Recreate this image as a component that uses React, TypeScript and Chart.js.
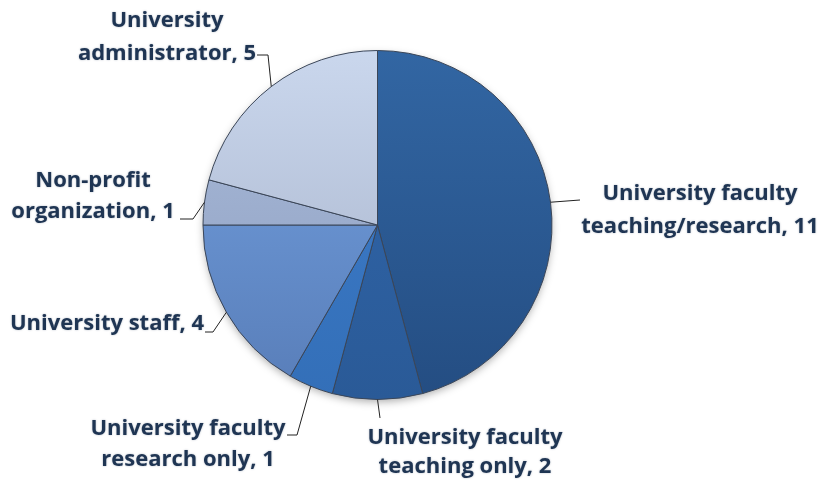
import React, { useEffect, useRef } from "react";
import { Chart, registerables } from "chart.js";
Chart.register(...registerables);

// ---- data ----
const categories = [
  "University faculty teaching/research",
  "University faculty teaching only",
  "University faculty research only",
  "University staff",
  "Non-profit organization",
  "University administrator",
];
const values = [11, 2, 1, 4, 1, 5];
// how each category label is broken into lines (value is appended to the last line)
const labelLines = [
  ["University faculty", "teaching/research"],
  ["University faculty", "teaching only"],
  ["University faculty", "research only"],
  ["University staff"],
  ["Non-profit", "organization"],
  ["University", "administrator"],
];

// ---- styles ----
const topColors = ["#3266a3", "#3167ac", "#3f7dcb", "#74a2e2", "#a9bcdc", "#cad7ed"];
const bottomColors = ["#244d82", "#2a5a97", "#336fb8", "#587db8", "#8e9dbd", "#a4b0c8"];
const textColor = "#1f3553";
const FONT = "bold 22px 'Open Sans', Lato, 'DejaVu Sans', sans-serif";

// label layout: leader elbow points after the arc anchor, text x, baselines, align
const labelLayout = [
  { pts: [[580, 200]], tx: 700, ys: [200, 233], align: "center" },
  { pts: [[380, 418]], tx: 465, ys: [444, 473], align: "center" },
  { pts: [[297, 435], [287, 435]], tx: 188, ys: [435, 466], align: "center" },
  { pts: [[213, 332], [205, 332]], tx: 107, ys: [330], align: "center" },
  { pts: [[193, 219], [180, 219]], tx: 93, ys: [187, 218], align: "center" },
  { pts: [[268, 55], [257, 55]], tx: 167, ys: [27, 60], align: "center" },
];

const shadowPlugin = {
  id: "pieShadow",
  beforeDatasetsDraw(chart: any) {
    const arc = chart.getDatasetMeta(0).data[0];
    if (!arc) return;
    const p = arc.getProps(["x", "y", "outerRadius"], true);
    const ctx = chart.ctx;
    ctx.save();
    ctx.shadowColor = "rgba(0,0,0,0.35)";
    ctx.shadowBlur = 8;
    ctx.shadowOffsetY = 3;
    ctx.beginPath();
    ctx.arc(p.x, p.y, p.outerRadius - 1, 0, Math.PI * 2);
    ctx.fillStyle = "#555";
    ctx.fill();
    ctx.restore();
  },
};

const labelPlugin = {
  id: "pieLabels",
  afterDatasetsDraw(chart: any) {
    const ctx = chart.ctx;
    const meta = chart.getDatasetMeta(0);
    ctx.save();
    meta.data.forEach((arc: any, i: number) => {
      const p = arc.getProps(["x", "y", "startAngle", "endAngle", "outerRadius"], true);
      const mid = (p.startAngle + p.endAngle) / 2;
      const ax = p.x + Math.cos(mid) * p.outerRadius;
      const ay = p.y + Math.sin(mid) * p.outerRadius;
      const lay = labelLayout[i];
      ctx.beginPath();
      ctx.moveTo(ax, ay);
      lay.pts.forEach((pt) => ctx.lineTo(pt[0], pt[1]));
      ctx.strokeStyle = "#222222";
      ctx.lineWidth = 1;
      ctx.stroke();
      const lines = labelLines[i].slice();
      lines[lines.length - 1] = lines[lines.length - 1] + ", " + values[i];
      ctx.font = FONT;
      ctx.fillStyle = textColor;
      ctx.textAlign = lay.align;
      ctx.textBaseline = "alphabetic";
      ctx.shadowColor = "rgba(31,53,83,0.35)";
      ctx.shadowBlur = 2;
      lines.forEach((t, k) => ctx.fillText(t, lay.tx, lay.ys[k]));
      ctx.shadowColor = "transparent";
      ctx.shadowBlur = 0;
    });
    ctx.restore();
  },
};

export default function App() {
  const ref = useRef<HTMLCanvasElement>(null);
  useEffect(() => {
    document.body.style.margin = "0";
    const chart = new Chart(ref.current!, {
      type: "pie",
      data: {
        labels: categories,
        datasets: [
          {
            data: values,
            backgroundColor: (c: any) => {
              const area = c.chart.chartArea;
              const i = c.dataIndex;
              if (!area) return topColors[i];
              const g = c.chart.ctx.createLinearGradient(0, area.top, 0, area.bottom);
              g.addColorStop(0, topColors[i]);
              g.addColorStop(1, bottomColors[i]);
              return g;
            },
            borderColor: "#3b4658",
            borderWidth: 1,
          },
        ],
      },
      options: {
        animation: false,
        responsive: false,
        maintainAspectRatio: false,
        layout: { padding: { top: 50, bottom: 83, left: 202, right: 270 } },
        plugins: { legend: { display: false }, tooltip: { enabled: false } },
      },
      plugins: [shadowPlugin, labelPlugin],
    });
    return () => chart.destroy();
  }, []);
  return (
    <div style={{ width: 823, height: 483, background: "#ffffff" }}>
      <canvas ref={ref} width={823} height={483} />
    </div>
  );
}
